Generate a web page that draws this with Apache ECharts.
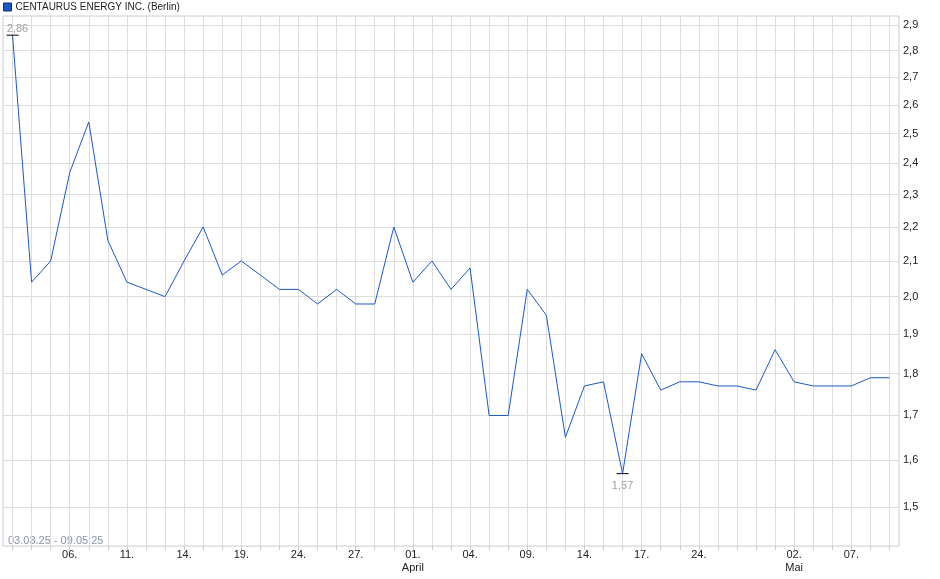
<!DOCTYPE html>
<html>
<head>
<meta charset="utf-8">
<title>CENTAURUS ENERGY INC. (Berlin)</title>
<style>
html, body { margin: 0; padding: 0; background: #fff; }
#chart { width: 940px; height: 579px; }
</style>
</head>
<body>
<div id="chart"></div>
<script src="https://cdn.jsdelivr.net/npm/echarts@6/dist/echarts.min.js"></script>
<script>
// trading days 03.03.25 - 09.05.25
var days = [
	'03.03', '04.03', '05.03', '06.03', '07.03', '10.03', '11.03', '12.03', '13.03', '14.03',
	'17.03', '18.03', '19.03', '20.03', '21.03', '24.03', '25.03', '26.03', '27.03', '28.03',
	'31.03', '01.04', '02.04', '03.04', '04.04', '07.04', '08.04', '09.04', '10.04', '11.04',
	'14.04', '15.04', '16.04', '17.04', '22.04', '23.04', '24.04', '25.04', '28.04', '29.04',
	'30.04', '02.05', '05.05', '06.05', '07.05', '08.05', '09.05'
];
var prices = [
	2.86, 2.04, 2.10, 2.37, 2.54, 2.16, 2.04, 2.02, 2.00, 2.10,
	2.20, 2.06, 2.10, 2.06, 2.02, 2.02, 1.98, 2.02, 1.98, 1.98,
	2.20, 2.04, 2.10, 2.02, 2.08, 1.70, 1.70, 2.02, 1.95, 1.65,
	1.77, 1.78, 1.57, 1.85, 1.76, 1.78, 1.78, 1.77, 1.77, 1.76,
	1.86, 1.78, 1.77, 1.77, 1.77, 1.79, 1.79
];
var labelDays = ['06.03', '11.03', '14.03', '19.03', '24.03', '27.03', '01.04', '04.04', '09.04', '14.04', '17.04', '24.04', '02.05', '07.05'];
var monthLabels = { '01.04': 'April', '02.05': 'Mai' };
var yTicks = [1.5, 1.6, 1.7, 1.8, 1.9, 2.0, 2.1, 2.2, 2.3, 2.4, 2.5, 2.6, 2.7, 2.8, 2.9];

// x is the trading day index, so grid lines sit on the points
var dayIdx = days.map(function (d, i) { return i; });
var labelIdx = labelDays.map(function (d) { return days.indexOf(d); });
var seriesData = prices.map(function (p, i) { return [i, p]; });

var chart = echarts.init(document.getElementById('chart'));
chart.setOption({
	animation: false,
	backgroundColor: '#fff',
	textStyle: { fontFamily: 'Liberation Sans, Arial, sans-serif' },
	legend: {
		left: 3, top: 2, padding: 0,
		icon: 'rect', itemWidth: 8, itemHeight: 8, itemGap: 4,
		itemStyle: { borderColor: '#0b2f7a', borderWidth: 1 },
		textStyle: { fontSize: 10, color: '#222', padding: [0, 0, 0, -1] },
		data: ['CENTAURUS ENERGY INC. (Berlin)']
	},
	grid: {
		left: 3, right: 41, top: 16, bottom: 33,
		show: true, borderColor: '#ccc', borderWidth: 1
	},
	xAxis: {
		type: 'value',
		min: -0.5,
		max: days.length - 0.5,
		axisLine: { show: false },
		axisTick: { show: true, customValues: dayIdx, length: 4, lineStyle: { color: '#ccc' } },
		axisLabel: {
			customValues: labelIdx,
			formatter: function (v) {
				var d = days[Math.round(v)];
				var s = d.split('.')[0] + '.';
				if (monthLabels[d]) s += '\n' + monthLabels[d];
				return s;
			},
			fontFamily: 'Liberation Sans Narrow, Arial Narrow, sans-serif',
			fontSize: 11, lineHeight: 13, color: '#222', margin: 2
		},
		splitLine: { show: true, lineStyle: { color: '#ddd' } }
	},
	yAxis: {
		type: 'log',
		logBase: 10,
		position: 'right',
		min: 1.422,
		max: 2.936,
		axisLine: { show: false },
		axisTick: { show: false, customValues: yTicks },
		axisLabel: {
			customValues: yTicks,
			formatter: function (v) { return (+v).toFixed(1).replace('.', ','); },
			fontSize: 11, color: '#222', margin: 4
		},
		splitLine: { show: true, lineStyle: { color: '#ddd' } }
	},
	series: [{
		name: 'CENTAURUS ENERGY INC. (Berlin)',
		type: 'line',
		data: seriesData,
		symbol: 'none',
		lineStyle: { color: '#1b58c8', width: 1 },
		itemStyle: { color: '#1b58c8' },
		markPoint: {
			symbol: 'rect',
			symbolSize: [12, 1],
			itemStyle: { color: '#000' },
			label: {
				formatter: function (p) { return p.value.toFixed(2).replace('.', ','); },
				color: '#a0a0a0', fontSize: 11
			},
			data: [
				{ type: 'max', valueDim: 'y', label: { position: 'top', distance: 0, offset: [5, 0] } },
				{ type: 'min', valueDim: 'y', label: { position: 'bottom', distance: 6 } }
			]
		}
	}],
	graphic: [{
		type: 'text', left: 8, top: 535,
		style: {
			text: '03.03.25 - 09.05.25',
			fontFamily: 'Liberation Sans Narrow, Arial Narrow, sans-serif',
			fontSize: 11, fill: '#8a93a8'
		}
	}]
});
</script>
</body>
</html>
